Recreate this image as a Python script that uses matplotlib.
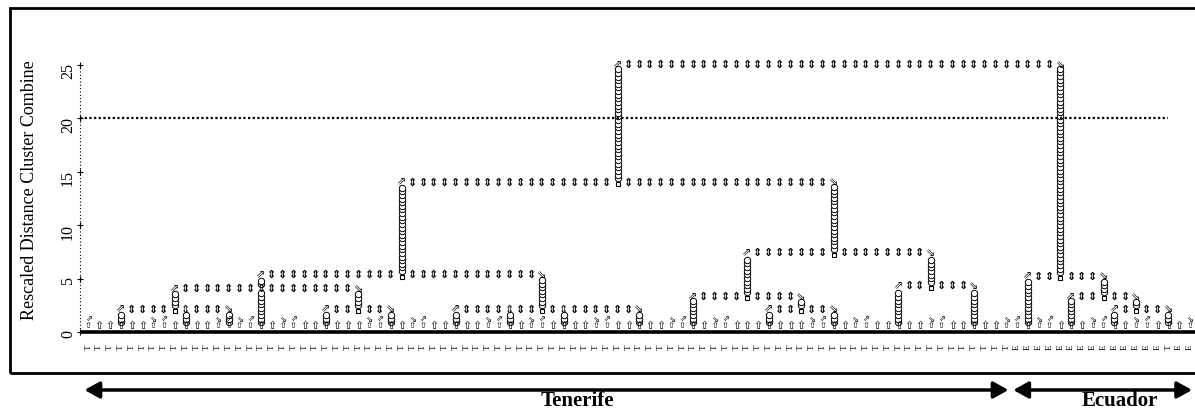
import numpy as np
import matplotlib.pyplot as plt
from matplotlib.patches import Rectangle

# leaf labels, left to right (T = Tenerife, E = Ecuador)
leaf_labels = ['T'] * 86 + ['E'] * 14 + ['T'] + ['E'] * 2

# groups of leaves that join at very small distances (first leaf, last leaf)
group_ranges = {
    'G1': (0, 6), 'G2': (7, 12), 'G3': (13, 14), 'G4': (15, 18),
    'G5': (19, 26), 'G6': (27, 30), 'G7': (31, 37), 'G8': (38, 41),
    'G9': (42, 47), 'G10': (48, 54), 'G11': (55, 58), 'G13': (59, 67),
    'G14': (68, 71), 'G15': (72, 78), 'G16': (79, 85),
    'E1': (86, 88), 'E2': (89, 93), 'E3a': (94, 97), 'E3b': (98, 102),
}

# merges: (new cluster, rescaled distance, joined clusters)
merges = [
    ('N1', 2.1, ['G1', 'G2', 'G3']),
    ('N2', 2.1, ['G5', 'G6']),
    ('A1', 4.05, ['N1', 'G4', 'N2']),
    ('A2', 2.1, ['G7', 'G8', 'G9', 'G10']),
    ('A', 5.3, ['A1', 'A2']),
    ('C67', 2.1, ['G13', 'G14']),
    ('B1', 3.3, ['G11', 'C67']),
    ('B2', 4.3, ['G15', 'G16']),
    ('B', 7.4, ['B1', 'B2']),
    ('TEN', 14.0, ['A', 'B']),
    ('E3', 2.1, ['E3a', 'E3b']),
    ('E4', 3.3, ['E2', 'E3']),
    ('ECU', 5.2, ['E1', 'E4']),
    ('ROOT', 25.0, ['TEN', 'ECU']),
]

cut_height = 20
y_ticks = [0, 5, 10, 15, 20, 25]
regions = ['Tenerife', 'Ecuador']
region_first = [0, 86]
region_last = [85, 102]

# pixel helpers for the page layout
px_x = lambda p: (p - 88.3) / 10.8
px_y = lambda p: (332 - p) / 10.68

fig = plt.figure(figsize=(11.95, 4.12), dpi=100)
ax = fig.add_axes([0, 0, 1, 1])
ax.set_xlim(px_x(0), px_x(1195))
ax.set_ylim(px_y(412), px_y(0))
ax.axis('off')

serif = 'Liberation Serif'
glyph = 'DejaVu Sans'

# frame
ax.add_patch(Rectangle((px_x(10), px_y(373)), px_x(1210) - px_x(10),
                       px_y(8) - px_y(373), fill=False, lw=2, color='black'))

# group ends get a corner arrow on top of the leaf glyph
ends = {}
stem = {}
base = {}
for g, (a, b) in group_ranges.items():
    stem[g] = (a + b) // 2
    base[g] = 0.9
    ends[a] = '\u21d7'
    ends[b] = '\u21d8'

# leaf glyphs and labels
for i, lab in enumerate(leaf_labels):
    if i in ends:
        ax.text(i, 0.2, ends[i] + '\n\u21e7', fontsize=6, family=glyph,
                ha='center', va='bottom', linespacing=0.7)
    else:
        ax.text(i, 0.55, '\u21e7', fontsize=8, family=glyph, ha='center', va='center')
    ax.text(i, -1.45, lab, fontsize=6.5, family=serif, rotation=90,
            ha='center', va='center')

step = 0.34
for name, h, kids in merges:
    cols = [stem[k] for k in kids]
    a, b = cols[0], cols[-1]
    new = (a + b) // 2
    stem[name] = new
    base[name] = h + 0.4
    for k, c in zip(kids, cols):
        ys = np.arange(base[k], h - 0.35, step)
        ax.plot([c] * len(ys), ys, 'o', ms=4.6, mfc='white', mec='black', mew=0.7)
        g = '\u21d7' if c == a else ('\u21d8' if c == b else '\u21d5')
        ax.text(c, h, g, fontsize=8, family=glyph, ha='center', va='center')
    for c in range(a + 1, b):
        if c in cols:
            continue
        if c == new and name != 'ROOT':
            ax.plot(c, h - 0.15, 's', ms=3, mfc='white', mec='black', mew=0.8)
        else:
            ax.text(c, h, '\u21d5', fontsize=8, family=glyph, ha='center',
                    va='center', fontweight='bold')

# axes lines
x0 = px_x(80)
ax.plot([x0, px_x(1195)], [0, 0], color='black', lw=2.6, solid_capstyle='butt')
ax.plot([x0, x0], [0, 25], color='black', lw=0.8, ls=(0, (1, 2)))
ax.plot([x0] * len(y_ticks), y_ticks, '+', color='black', ms=4, mew=0.8)
for t in y_ticks:
    ax.text(px_x(68), t + 0.15, str(t), fontsize=11.5, family=serif, rotation=90,
            ha='center', va='top')
ax.text(px_x(30), px_y(190), 'Rescaled Distance Cluster Combine', fontsize=13,
        family=serif, rotation=90, ha='center', va='center')

# cut line
ax.plot([x0, px_x(1168)], [cut_height, cut_height], color='black', lw=1.6,
        ls=(0, (1, 1.1)))

# region arrows
ya = px_y(390)
label_px = [577, 1120]
for r, f, l, lp in zip(regions, region_first, region_last, label_px):
    ax.annotate('', xy=(l + 0.2, ya), xytext=(f - 0.35, ya),
                arrowprops=dict(arrowstyle='<|-|>,head_length=0.9,head_width=0.5',
                                lw=2.5, color='black', shrinkA=0, shrinkB=0))
    ax.text(px_x(lp), px_y(406), r, fontsize=15, fontweight='bold', family=serif,
            ha='center', va='baseline')

fig.savefig('out.png', dpi=100)
